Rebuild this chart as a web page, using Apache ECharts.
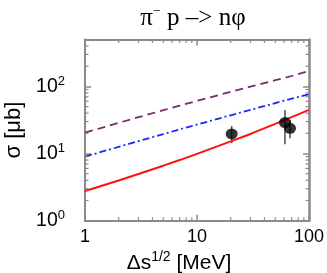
<!DOCTYPE html>
<html><head><meta charset="utf-8">
<script src="https://cdn.jsdelivr.net/npm/echarts@6/dist/echarts.min.js"></script>
<style>html,body{margin:0;padding:0;background:#fff}#c{width:327px;height:273px}</style>
</head><body><div id="c"></div>
<script>
// curve samples (x in MeV, sigma in microbarn)
var curveX      = [1, 2, 3, 5, 7, 10, 20, 30, 50, 70, 100];
var redValues   = [2.77, 3.97, 4.95, 6.6, 8.0, 9.9, 15.2, 19.6, 27.7, 34.9, 44.7];
var blueValues  = [9.0, 12.6, 15.3, 19.5, 22.9, 27.0, 37.2, 44.8, 56.5, 65.6, 76.5];
var purpleValues= [20.5, 28.7, 34.8, 44.2, 51.7, 60.9, 83.2, 99.5, 124, 143, 170];
// data points with error bars
var pointX  = [20.4, 61, 67.7];
var pointY  = [19.6, 28.9, 23.8];
var pointLo = [14.3, 13.8, 16.9];
var pointHi = [25.7, 44.6, 31.6];
// axis
var xMin = 1, xMax = 100, yMin = 1, yMax = 500;
var xMinorTicks = [2,3,4,5,6,7,8,9,20,30,40,50,60,70,80,90];
var yMinorTicks = [2,3,4,5,6,7,8,9,20,30,40,50,60,70,80,90,200,300,400];

function pairs(xs, ys){ return xs.map(function(x,i){return [x, ys[i]];}); }

var chart = echarts.init(document.getElementById('c'), null, {renderer:'canvas'});
var axisColor = '#8a8a8a';
var font = 'Liberation Sans, Arial, Helvetica, sans-serif';

var minorData = xMinorTicks.map(function(v){return [v, yMin, 0];})
  .concat(yMinorTicks.map(function(v){return [xMin, v, 1];}));

var option = {
  animation: false,
  backgroundColor: '#fff',
  grid: {left: 85, right: 18, top: 39.5, bottom: 52.3, containLabel: false, outerBoundsMode: 'none'},
  graphic: [{
    type: 'text', x: 193, y: 18,
    style: {
      text: '{a|π}{s|−}{a| p –> nφ}',
      align: 'center', verticalAlign: 'middle',
      rich: {
        a: {fontFamily: 'Liberation Serif, Times New Roman, serif', fontSize: 25, fill: '#000'},
        s: {fontFamily: 'Liberation Serif, Times New Roman, serif', fontSize: 14, fill: '#000', padding: [0,0,14,0]}
      }
    }
  }],
  xAxis: [{
    type: 'log', logBase: 10, min: xMin, max: xMax,
    axisLine: {show: true, lineStyle: {color: axisColor, width: 2}},
    axisTick: {show: true, inside: true, length: 6, lineStyle: {color: axisColor, width: 1.5}},
    axisLabel: {show: true, margin: 7, color: '#000', fontSize: 18, fontFamily: font},
    splitLine: {show: false},
    name: '{a|Δs}{s|1/2}{a| [MeV]}',
    nameLocation: 'middle', nameGap: 21,
    nameTextStyle: {padding: [0, 36, 0, 0], rich: {
      a: {fontSize: 21, fontFamily: font, color: '#000'},
      s: {fontSize: 14, fontFamily: font, color: '#000', padding: [0,0,11,0]}
    }}
  }, {
    type: 'log', logBase: 10, min: xMin, max: xMax, position: 'top',
    axisLine: {show: true, lineStyle: {color: axisColor, width: 2}},
    axisTick: {show: true, inside: true, length: 6, lineStyle: {color: axisColor, width: 1.5}},
    axisLabel: {show: false}, splitLine: {show: false}
  }],
  yAxis: [{
    type: 'log', logBase: 10, min: yMin, max: yMax,
    axisLine: {show: true, lineStyle: {color: axisColor, width: 2}},
    axisTick: {show: true, inside: true, length: 6, lineStyle: {color: axisColor, width: 1.5}},
    axisLabel: {show: true, margin: 20, fontFamily: font,
      formatter: function(v){ var e = Math.round(Math.log10(v)); if (Math.abs(Math.pow(10,e)-v) > 1e-6) return ''; return '{a|10}{s|' + e + '}'; },
      rich: {
        a: {fontSize: 19.5, fontFamily: font, color: '#000'},
        s: {fontSize: 13, fontFamily: font, color: '#000', padding: [0,0,11,0]}
      }
    },
    splitLine: {show: false},
    name: 'σ [μb]', nameLocation: 'middle', nameGap: 60, nameRotate: 90,
    nameTextStyle: {fontSize: 22, fontFamily: font, color: '#000'}
  }, {
    type: 'log', logBase: 10, min: yMin, max: yMax, position: 'right',
    axisLine: {show: true, lineStyle: {color: axisColor, width: 2.5}},
    axisTick: {show: true, inside: true, length: 6, lineStyle: {color: axisColor, width: 1.5}},
    axisLabel: {show: false}, splitLine: {show: false}
  }],
  series: [
    {type: 'line', data: pairs(curveX, purpleValues), smooth: false, symbol: 'none',
     lineStyle: {color: '#7a2a6e', width: 1.8, type: [8, 5]}},
    {type: 'line', data: pairs(curveX, blueValues), smooth: false, symbol: 'none',
     lineStyle: {color: '#1a2bf0', width: 1.8, type: [7, 3, 2, 3]}},
    {type: 'line', data: pairs(curveX, redValues), smooth: false, symbol: 'none',
     lineStyle: {color: '#ff1010', width: 2}},
    {type: 'custom', data: pointX.map(function(x,i){return [x, pointLo[i], pointHi[i]];}),
     renderItem: function(params, api){
       var lo = api.coord([api.value(0), api.value(1)]);
       var hi = api.coord([api.value(0), api.value(2)]);
       return {type: 'line', shape: {x1: lo[0], y1: lo[1], x2: hi[0], y2: hi[1]},
               style: {stroke: '#555', lineWidth: 1.6}};
     }, z: 3},
    {type: 'scatter', data: pairs(pointX, pointY), symbol: 'circle', symbolSize: [12, 11],
     itemStyle: {color: '#000'}, z: 4},
    {type: 'custom', data: minorData, silent: true, z: 5,
     renderItem: function(params, api){
       var cs = params.coordSys;
       var isY = api.value(2) === 1;
       var p = api.coord([api.value(0), api.value(1)]);
       var L = 3.5;
       var lines;
       if (!isY) {
         lines = [[p[0], cs.y + cs.height, p[0], cs.y + cs.height - L], [p[0], cs.y, p[0], cs.y + L]];
       } else {
         lines = [[cs.x, p[1], cs.x + L, p[1]], [cs.x + cs.width, p[1], cs.x + cs.width - L, p[1]]];
       }
       return {type: 'group', children: lines.map(function(l){
         return {type: 'line', shape: {x1: l[0], y1: l[1], x2: l[2], y2: l[3]},
                 style: {stroke: axisColor, lineWidth: 1.2}};
       })};
     }}
  ]
};
chart.setOption(option);
</script></body></html>
